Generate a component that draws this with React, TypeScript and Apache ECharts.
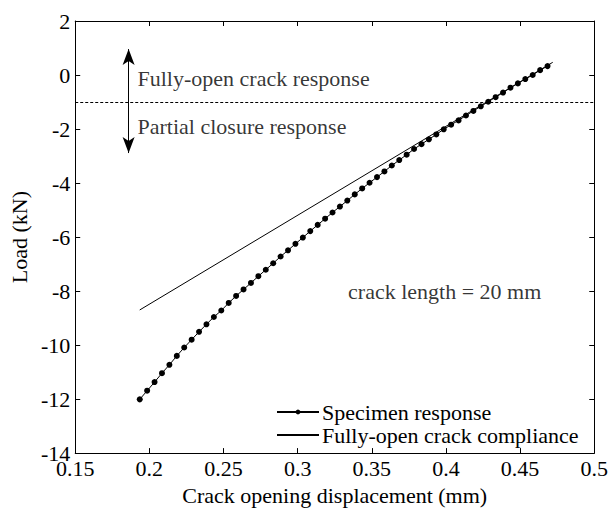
import React, { useEffect, useRef } from "react";
import * as echarts from "echarts";

const FONT = '"Liberation Serif", "Times New Roman", Times, serif';

// Crack opening displacement (mm) of each measured point
const displacement = [
  0.1935, 0.1985, 0.2035, 0.2085, 0.2135, 0.2185, 0.2235, 0.2285, 0.2335, 0.2385,
  0.2435, 0.2485, 0.2535, 0.2585, 0.2635, 0.2685, 0.2735, 0.2785, 0.2835, 0.2885,
  0.2935, 0.2985, 0.3035, 0.3085, 0.3135, 0.3185, 0.3235, 0.3285, 0.3335, 0.3385,
  0.3435, 0.3485, 0.3535, 0.3585, 0.3635, 0.3685, 0.3735, 0.3785, 0.3835, 0.3885,
  0.3935, 0.3985, 0.4035, 0.4085, 0.4135, 0.4185, 0.4235, 0.4285, 0.4335, 0.4385,
  0.4435, 0.4485, 0.4535, 0.4585, 0.4635, 0.4685,
];
// Load (kN) of the specimen response
const load = [
  -12.01, -11.69, -11.37, -11.04, -10.73, -10.4, -10.09, -9.8, -9.51, -9.23,
  -8.96, -8.72, -8.44, -8.18, -7.94, -7.7, -7.45, -7.21, -6.97, -6.72,
  -6.49, -6.25, -6.02, -5.78, -5.55, -5.32, -5.09, -4.87, -4.65, -4.42,
  -4.2, -3.99, -3.78, -3.57, -3.35, -3.15, -2.95, -2.74, -2.56, -2.38,
  -2.2, -2.01, -1.84, -1.68, -1.5, -1.33, -1.16, -0.99, -0.82, -0.65,
  -0.47, -0.31, -0.15, 0.0, 0.18, 0.33,
];
// Fully-open crack compliance line end points
const complianceX = [0.1935, 0.472];
const complianceY = [-8.7, 0.47];

// Axes
const xMin = 0.15, xMax = 0.5, xStep = 0.05;
const yMin = -14, yMax = 2, yStep = 2;

// Annotations
const closureLoad = -1;
const arrowX = 0.186;
const arrowTop = 0.96;
const arrowBottom = -2.89;
const noteText = ["Fully-open crack response", "Partial closure response", "crack length = 20 mm"];
const noteX = [0.192, 0.192, 0.334];
const noteY = [-0.14, -1.89, -8.0];

const seriesNames = ["Specimen response", "Fully-open crack compliance"];

export default function App() {
  const ref = useRef<HTMLDivElement>(null);
  useEffect(() => {
    if (!ref.current) return;
    const chart = echarts.init(ref.current, undefined, { renderer: "svg" });
    const axisLine = { show: true, onZero: false, lineStyle: { color: "#000", width: 1 } };
    const axisTick = { show: true, inside: true, length: 5, lineStyle: { color: "#000", width: 1 } };
    const txt = { fontFamily: FONT, fontSize: 22, color: "#000" };
    const fmt = (v: number) => String(Number(v.toFixed(2)));
    chart.setOption({
      animation: false,
      backgroundColor: "#fff",
      grid: { left: 72, right: 14, top: 21, bottom: 53 },
      legend: {
        data: [
          { name: seriesNames[0] },
          { name: seriesNames[1], itemStyle: { color: "transparent", borderColor: "transparent", borderWidth: 0 } },
        ],
        orient: "vertical",
        left: 271,
        top: 396,
        itemWidth: 42,
        itemHeight: 6,
        itemGap: 1,
        textStyle: { ...txt, padding: [0, 0, 0, -2] },
        selectedMode: false,
      },
      xAxis: [
        {
          type: "value", position: "bottom", min: xMin, max: xMax, interval: xStep,
          axisLine, axisTick, splitLine: { show: false },
          axisLabel: { ...txt, margin: 4, formatter: fmt, showMinLabel: true, showMaxLabel: true },
          name: "Crack opening displacement (mm)", nameLocation: "middle", nameGap: 27,
          nameTextStyle: txt,
        },
        {
          type: "value", position: "top", min: xMin, max: xMax, interval: xStep,
          axisLine, axisTick, splitLine: { show: false }, axisLabel: { show: false },
        },
      ],
      yAxis: [
        {
          type: "value", position: "left", min: yMin, max: yMax, interval: yStep,
          axisLine, axisTick, splitLine: { show: false },
          axisLabel: { ...txt, margin: 5, formatter: fmt, showMinLabel: true, showMaxLabel: true },
          name: "Load (kN)", nameLocation: "middle", nameGap: 40, nameRotate: 90,
          nameTextStyle: txt,
        },
        {
          type: "value", position: "right", min: yMin, max: yMax, interval: yStep,
          axisLine, axisTick, splitLine: { show: false }, axisLabel: { show: false },
        },
      ],
      series: [
        {
          name: seriesNames[1],
          type: "line",
          data: complianceX.map((x, i) => [x, complianceY[i]]),
          symbol: "none",
          lineStyle: { color: "#000", width: 1 },
          itemStyle: { color: "#000" },
          z: 2,
          markLine: {
            silent: true,
            symbol: "none",
            label: { show: false },
            lineStyle: { color: "#000", width: 1, type: [3, 2] },
            data: [{ yAxis: closureLoad }],
          },
        },
        {
          name: seriesNames[0],
          type: "line",
          data: displacement.map((x, i) => [x, load[i]]),
          symbol: "circle",
          symbolSize: 6,
          showSymbol: true,
          lineStyle: { color: "#000", width: 1 },
          itemStyle: { color: "#000" },
          z: 3,
        },
        {
          name: "notes",
          type: "scatter",
          symbolSize: 0,
          silent: true,
          data: noteText.map((t, i) => ({ value: [noteX[i], noteY[i]], name: t })),
          label: {
            show: true, position: "right", distance: 0,
            formatter: (p: any) => p.name, ...txt,
          },
          markLine: {
            silent: true,
            symbol: ["arrow", "arrow"],
            symbolSize: [9, 16],
            label: { show: false },
            lineStyle: { color: "#000", width: 1, type: "solid" },
            data: [[{ coord: [arrowX, arrowBottom] }, { coord: [arrowX, arrowTop] }]],
          },
        },
      ],
    });
    return () => chart.dispose();
  }, []);
  return (
    <div
      ref={ref}
      style={{ position: "fixed", left: 0, top: 0, width: 611, height: 511, background: "#fff" }}
    />
  );
}
